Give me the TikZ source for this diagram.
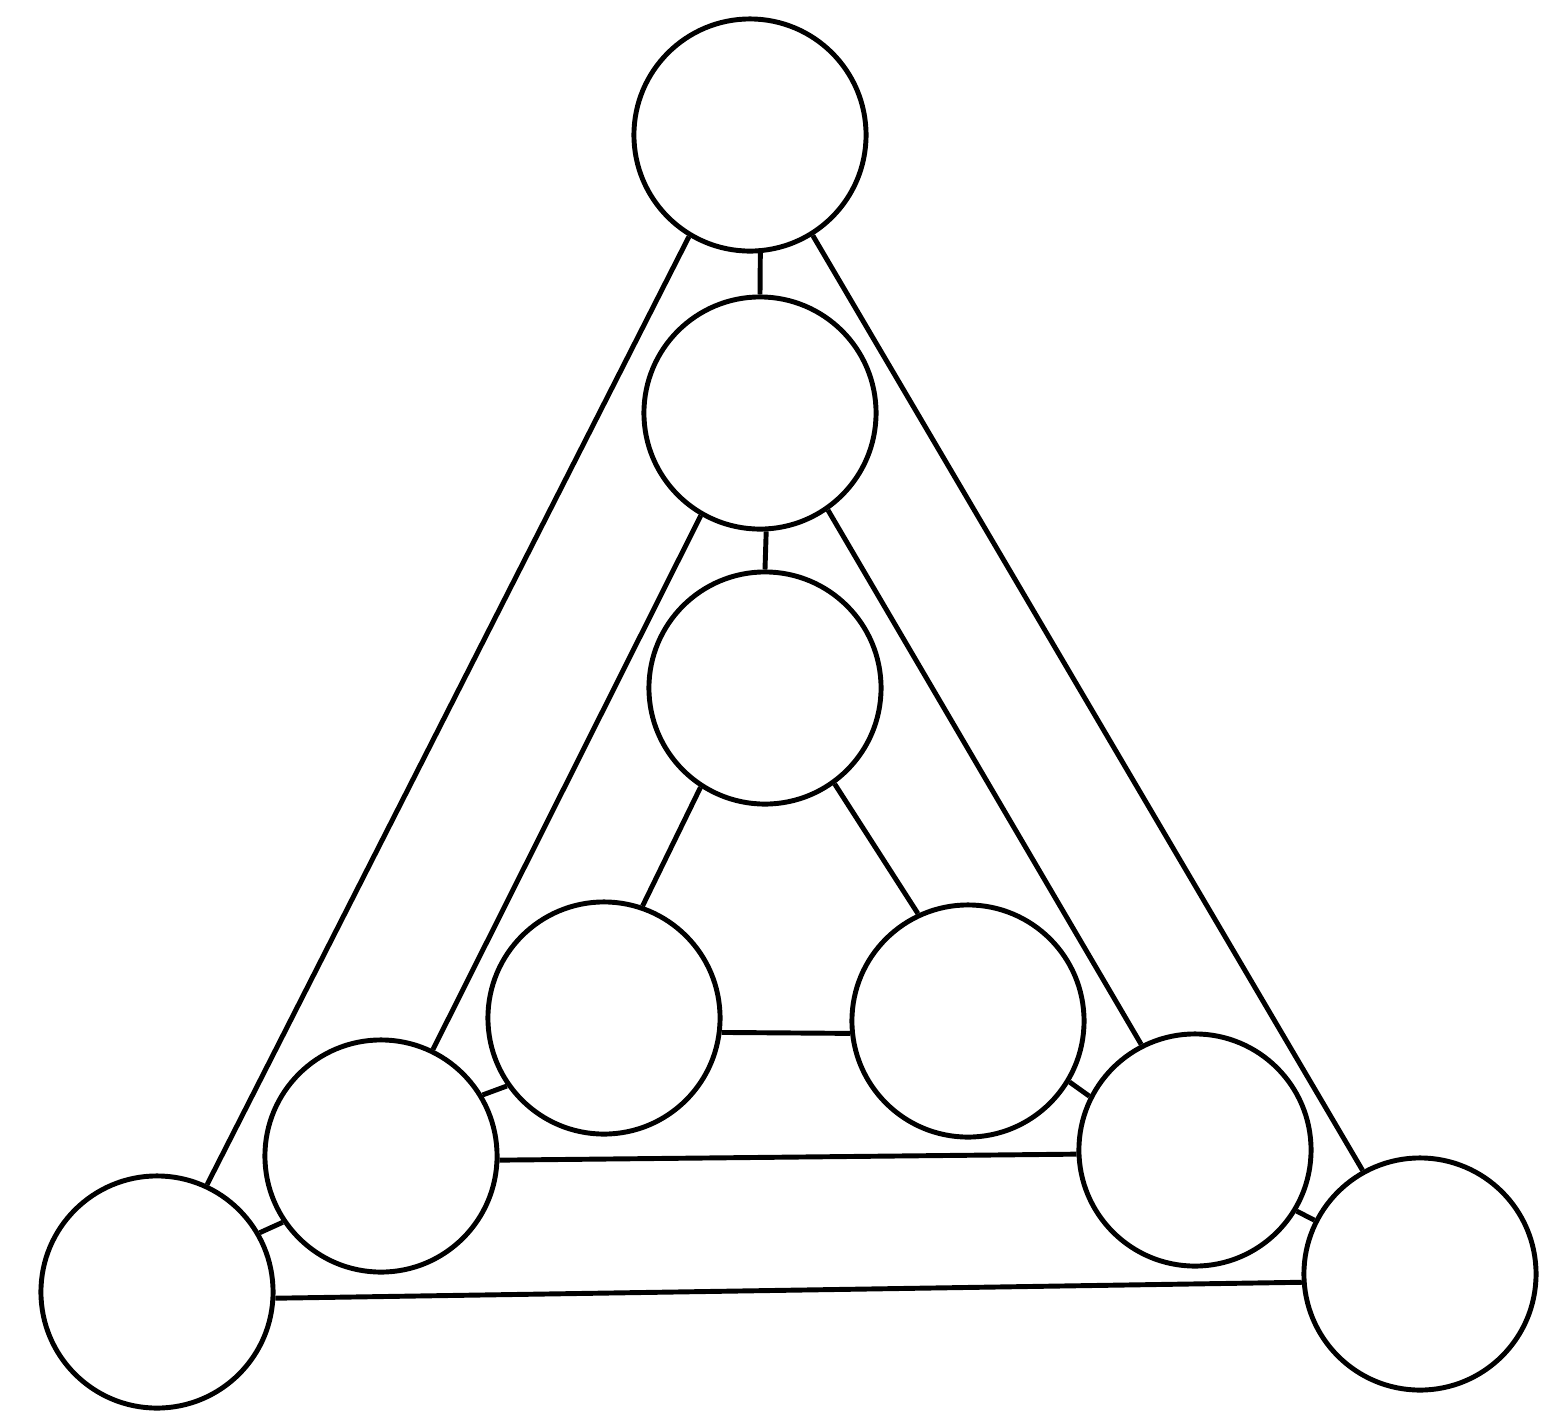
\documentclass[tikz,border=0pt]{standalone}
\begin{document}
\begin{tikzpicture}[x=0.01cm,y=-0.01cm,
  ball/.style={circle,draw,line width=1.4pt,minimum size=2.32cm,inner sep=0pt},
  link/.style={line width=1.4pt}]
\useasboundingbox (0,0) rectangle (1541,1417);
\node[ball] (A) at (750,135) {};
\node[ball] (B) at (760,413) {};
\node[ball] (C) at (765,688) {};
\node[ball] (D) at (604,1018) {};
\node[ball] (E) at (968,1021) {};
\node[ball] (F) at (381,1156) {};
\node[ball] (G) at (1195,1150) {};
\node[ball] (H) at (157,1292) {};
\node[ball] (I) at (1420,1274) {};
\draw[link] (A.275) -- (B.90);
\draw[link] (B.273) -- (C.90);
\draw[link] (A.239) -- (H.65);
\draw[link] (A.302) -- (I.119);
\draw[link] (H.357) -- (I.184);
\draw[link] (B.240) -- (F.64);
\draw[link] (B.305) -- (G.117);
\draw[link] (F.358) -- (G.182);
\draw[link] (C.237) -- (D.71);
\draw[link] (C.306) -- (E.115);
\draw[link] (D.353) -- (E.186);
\draw[link] (H.30) -- (F.214);
\draw[link] (F.31) -- (D.215);
\draw[link] (E.329) -- (G.153);
\draw[link] (G.329) -- (I.153);
\end{tikzpicture}
\end{document}
